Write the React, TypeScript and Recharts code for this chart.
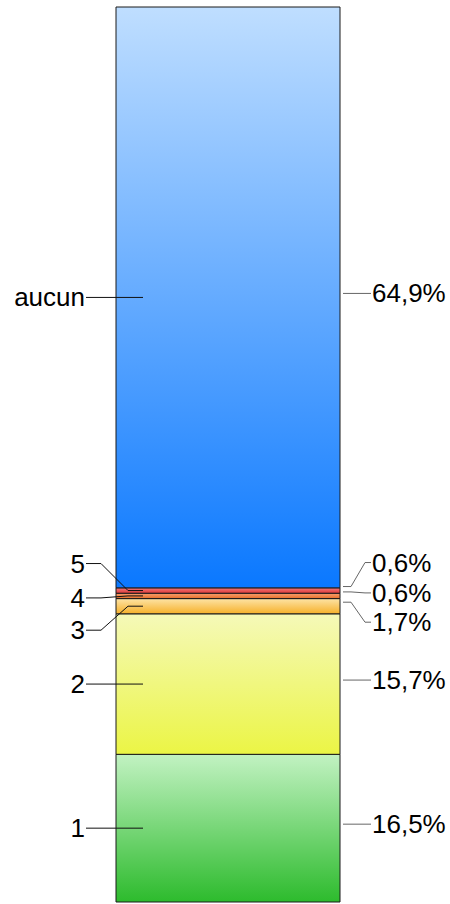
import React from "react";
import { Bar, BarChart, LabelList, XAxis, YAxis } from "recharts";

// stacked from the bottom up
const seriesNames = ["1", "2", "3", "4", "5", "aucun"];
const shares = [16.5, 15.7, 1.7, 0.6, 0.6, 64.9];

// gradient stops per segment (top, bottom)
const topColors = ["#c2f2c2", "#f5f9b8", "#fde4a6", "#f7a070", "#f07a7a", "#bfdeff"];
const bottomColors = ["#2dbb2d", "#ebf545", "#f6b02a", "#e8702a", "#e03a3a", "#0a78ff"];

// label displacement for the thin slices (px)
const leftShift = [0, 0, 24, 2, -27, 0];
const rightShift = [-4, -4, 16, -3, -28, -4];

const data = [
  seriesNames.reduce(
    (row, _, i) => ({ ...row, [`s${i}`]: shares[i] }),
    { name: "total" } as Record<string, number | string>,
  ),
];

const fmt = (v: number) => `${v.toFixed(1).replace(".", ",")}%`;

const FONT = "'Liberation Sans', Arial, sans-serif";

function makeLabel(i: number) {
  return (props: any) => {
    const x = Number(props.x);
    const y = Number(props.y);
    const w = Number(props.width);
    const h = Number(props.height);
    const cy = y + h / 2;
    const ly = cy + leftShift[i];
    const ry0 = cy - 4;
    const ry = cy + rightShift[i];
    const r = x + w;
    return (
      <g>
        <polyline
          points={`${x + 27},${cy} ${x + 12},${cy} ${x - 15},${ly} ${x - 30},${ly}`}
          fill="none"
          stroke="#111"
          strokeWidth={1}
        />
        <text
          x={x - 31}
          y={ly}
          textAnchor="end"
          dominantBaseline="central"
          fontFamily={FONT}
          fontSize={26}
          fill="#000"
        >
          {seriesNames[i]}
        </text>
        <polyline
          points={`${r + 3},${ry0} ${r + 11},${ry0} ${r + 25},${ry} ${r + 31},${ry}`}
          fill="none"
          stroke="#666"
          strokeWidth={1}
        />
        <text
          x={r + 32}
          y={ry}
          textAnchor="start"
          dominantBaseline="central"
          fontFamily={FONT}
          fontSize={26}
          fill="#000"
        >
          {fmt(shares[i])}
        </text>
      </g>
    );
  };
}

export default function App() {
  return (
    <div style={{ position: "absolute", left: 0, top: 0, background: "#fff" }}>
      <BarChart
        width={450}
        height={904}
        data={data}
        margin={{ top: 7, right: 110, bottom: 2, left: 116 }}
        barCategoryGap={0}
      >
        <defs>
          {seriesNames.map((_, i) => (
            <linearGradient key={i} id={`g${i}`} x1="0" y1="0" x2="0" y2="1">
              <stop offset="0%" stopColor={topColors[i]} />
              <stop offset="100%" stopColor={bottomColors[i]} />
            </linearGradient>
          ))}
        </defs>
        <XAxis dataKey="name" hide />
        <YAxis hide domain={[0, 100]} />
        {seriesNames.map((_, i) => (
          <Bar
            key={i}
            dataKey={`s${i}`}
            stackId="a"
            fill={`url(#g${i})`}
            stroke="#1a1a1a"
            strokeWidth={1}
            isAnimationActive={false}
          >
            <LabelList dataKey={`s${i}`} content={makeLabel(i)} />
          </Bar>
        ))}
      </BarChart>
    </div>
  );
}
